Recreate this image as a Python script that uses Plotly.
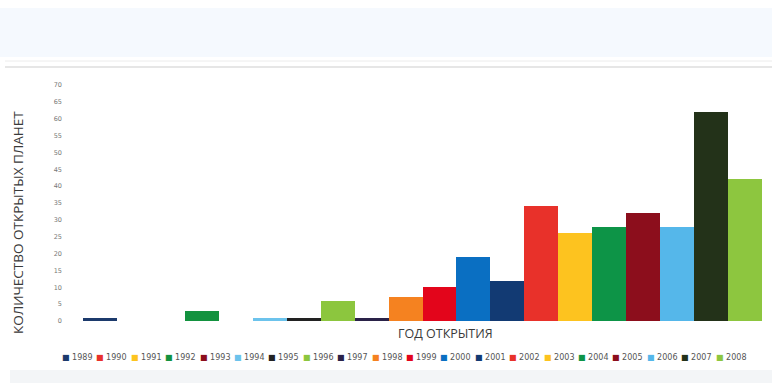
import plotly.graph_objects as go

# Exoplanet discoveries per year
years = ["1989", "1990", "1991", "1992", "1993", "1994", "1995", "1996", "1997", "1998",
         "1999", "2000", "2001", "2002", "2003", "2004", "2005", "2006", "2007", "2008"]
planets = [1, 0, 0, 3, 0, 1, 1, 6, 1, 7,
           10, 19, 12, 34, 26, 28, 32, 28, 62, 42]
colors = ["#1c3a6c", "#e8312a", "#fdc41f", "#13923f", "#8c0e1c", "#6cc3ec", "#222222",
          "#8cc63e", "#2a2248", "#f58220", "#e3051b", "#0a6fc2", "#123a73", "#e8312a",
          "#fdc31f", "#0d9447", "#8c0e1c", "#55b7ea", "#233219", "#8dc63f"]
y_ticks = list(range(0, 75, 5))

W, H = 772, 383
fig = go.Figure()
fig.add_trace(go.Bar(
    x=years, y=planets, marker=dict(color=colors, line=dict(width=0)),
    showlegend=False,
))

shapes = [
    # pale header band and separator lines
    dict(type="rect", xref="paper", yref="paper", x0=-83 / 679, x1=1.1,
         y0=1 + (85 - 8) / 236, y1=1 + (85 - 57) / 236 - 0.0,
         fillcolor="#f5f9fe", line=dict(width=0), layer="below"),
    dict(type="line", xref="paper", yref="paper", x0=-78 / 679, x1=1.1,
         y0=1 + (85 - 61) / 236, y1=1 + (85 - 61) / 236,
         line=dict(color="#ececec", width=1)),
    dict(type="line", xref="paper", yref="paper", x0=-78 / 679, x1=1.1,
         y0=1 + (85 - 67) / 236, y1=1 + (85 - 67) / 236,
         line=dict(color="#dedede", width=1.5)),
    # footer band
    dict(type="rect", xref="paper", yref="paper", x0=-73 / 679, x1=1.1,
         y0=-(383 - 321) / 236 - 0.1, y1=-(370 - 321) / 236,
         fillcolor="#f3f5f7", line=dict(width=0), layer="below"),
]

annotations = [
    dict(text="ГОД ОТКРЫТИЯ", xref="paper", yref="paper",
         x=(445 - 83) / 679, y=-(333 - 321) / 236, xanchor="center", yanchor="middle",
         showarrow=False, font=dict(family="Open Sans", size=12.5, color="#3a3a3a")),
    dict(text="КОЛИЧЕСТВО ОТКРЫТЫХ ПЛАНЕТ", xref="paper", yref="paper",
         x=(18 - 83) / 679, y=(321 - 223) / 236, xanchor="center", yanchor="middle",
         textangle=-90, showarrow=False,
         font=dict(family="Open Sans", size=13.5, color="#3a3a3a")),
]

# legend row: coloured square followed by the year
for i, (yr, c) in enumerate(zip(years, colors)):
    x_px = 60 + i * 34.4
    annotations.append(dict(
        text=f"<span style='color:{c}'>■</span> {yr}",
        xref="paper", yref="paper",
        x=(x_px - 83) / 679, y=-(357 - 321) / 236,
        xanchor="left", yanchor="middle", showarrow=False,
        font=dict(family="DejaVu Sans", size=8, color="#555555"),
    ))

fig.update_layout(
    width=W, height=H,
    margin=dict(l=83, r=10, t=85, b=62),
    paper_bgcolor="#ffffff", plot_bgcolor="#ffffff",
    bargap=0,
    xaxis=dict(range=[-0.5, 19.5], showticklabels=False, showgrid=False,
               zeroline=False, showline=False, ticks=""),
    yaxis=dict(range=[0, 70], tickvals=y_ticks, showgrid=False, zeroline=False,
               showline=False, ticks="", ticklabelstandoff=20,
               tickfont=dict(family="DejaVu Sans", size=6.5, color="#777777")),
    shapes=shapes,
    annotations=annotations,
)

fig.write_html("out.html")
